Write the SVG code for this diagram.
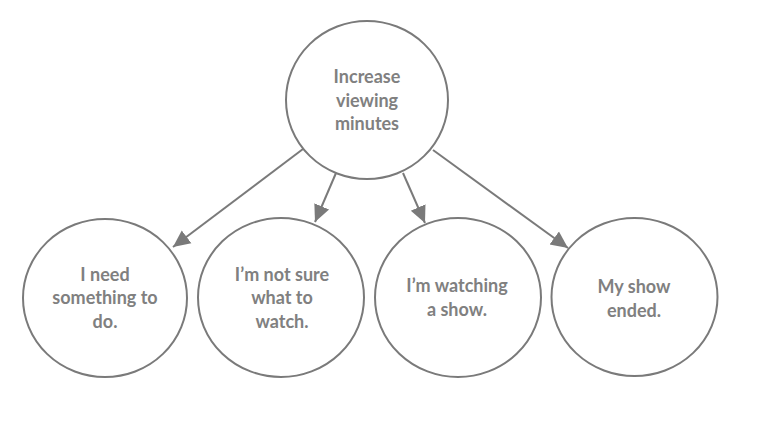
<svg xmlns="http://www.w3.org/2000/svg" width="763" height="442" viewBox="0 0 763 442">
<style>
.node ellipse{fill:#fff;stroke:#7a7a7a;stroke-width:2}
.node text{font-family:"Lato","Liberation Sans",sans-serif;font-size:18px;fill:#808080;text-anchor:middle;font-weight:bold}
.edge{stroke:#7a7a7a;stroke-width:2;fill:none;marker-end:url(#arr)}
</style>
<defs>
<marker id="arr" markerUnits="userSpaceOnUse" markerWidth="18" markerHeight="18" viewBox="0 0 18 18" refX="17" refY="9" orient="auto">
<path d="M0,1 L17,9 L0,17 Z" fill="#7a7a7a"/>
</marker>
</defs>
<rect width="763" height="442" fill="#fff"/>
<g id="connectors">
<line class="edge" x1="303" y1="149" x2="173" y2="247"/>
<line class="edge" x1="336" y1="173" x2="315" y2="222"/>
<line class="edge" x1="403" y1="173" x2="425" y2="223"/>
<line class="edge" x1="433" y1="150" x2="568" y2="248"/>
</g>
<g id="top" class="node">
<ellipse cx="367" cy="100" rx="81" ry="79"/>
<text x="367" y="83">Increase</text>
<text x="367" y="106.5">viewing</text>
<text x="367" y="130">minutes</text>
</g>
<g id="n1" class="node">
<ellipse cx="105" cy="298" rx="82" ry="79"/>
<text x="105" y="281">I need</text>
<text x="105" y="304">something to</text>
<text x="105" y="327.5">do.</text>
</g>
<g id="n2" class="node">
<ellipse cx="281" cy="297.5" rx="83" ry="79.5"/>
<text x="282" y="281">I’m not sure</text>
<text x="282" y="304">what to</text>
<text x="282" y="327.5">watch.</text>
</g>
<g id="n3" class="node">
<ellipse cx="458" cy="297.5" rx="83" ry="79.5"/>
<text x="457" y="292">I’m watching</text>
<text x="457" y="316">a show.</text>
</g>
<g id="n4" class="node">
<ellipse cx="634.5" cy="297" rx="83" ry="79"/>
<text x="634" y="293">My show</text>
<text x="634" y="316.5">ended.</text>
</g>
</svg>
